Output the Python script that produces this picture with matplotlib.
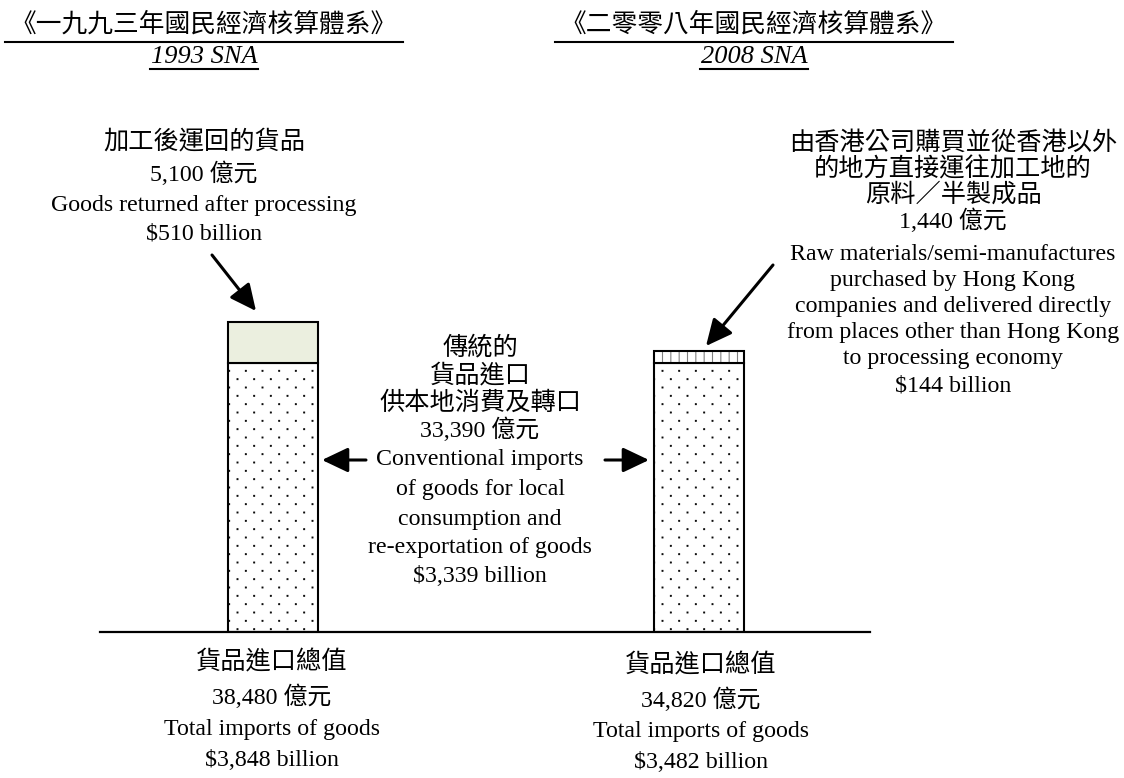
import numpy as np
import matplotlib
matplotlib.use("Agg")
import matplotlib.pyplot as plt
import matplotlib.hatch as mhatch
from matplotlib.path import Path
from matplotlib.lines import Line2D

W, H = 1124, 778

# ---- data (HK$ billion) ----
systems = ["1993 SNA", "2008 SNA"]
system_titles = ["《一九九三年國民經濟核算體系》", "《二零零八年國民經濟核算體系》"]
conventional = [3339, 3339]          # conventional imports, same in both systems
top_part = [510, 144]                # goods returned after processing / raw materials bought by HK firms
totals = [3848, 3482]
top_colors = ["#EBEFDF", "white"]
top_hatches = ["", "||"]

top_notes_zh = [["加工後運回的貨品"],
                ["由香港公司購買並從香港以外", "的地方直接運往加工地的", "原料／半製成品"]]
top_notes_en = [["Goods returned after processing"],
                ["Raw materials/semi-manufactures", "purchased by Hong Kong",
                 "companies and delivered directly", "from places other than Hong Kong",
                 "to processing economy"]]
conv_zh = ["傳統的", "貨品進口", "供本地消費及轉口"]
conv_en = ["Conventional imports", "of goods for local", "consumption and", "re-exportation of goods"]
total_zh = "貨品進口總值"
total_en = "Total imports of goods"

SERIF = ["Liberation Serif", "Noto Sans CJK TC"]
CJK = ["Noto Sans CJK TC", "Liberation Serif"]


# dotted fill as in the source: dots every 1/6 inch across, staggered rows every 1/12 inch
class StaggerDots(mhatch.HatchPatternBase):
    def __init__(self, hatch, density):
        self.ncols = hatch.count(".") * density
        self.nrows = self.ncols * 2
        self.num_vertices = self.ncols * self.nrows * 5

    def set_vertices_and_codes(self, vertices, codes):
        d = 0.004
        k = 0
        for r in range(self.nrows):
            shift = 0.5 if r % 2 else 0.0
            for c in range(self.ncols):
                x = (c + shift + 0.25) / self.ncols
                y = (r + 0.5) / self.nrows
                vertices[k:k + 5] = [[x - d, y - d], [x + d, y - d], [x + d, y + d],
                                     [x - d, y + d], [x - d, y - d]]
                codes[k:k + 5] = [Path.MOVETO, Path.LINETO, Path.LINETO, Path.LINETO, Path.CLOSEPOLY]
                k += 5


mhatch._hatch_types = [StaggerDots if t is mhatch.SmallFilledCircles else t
                       for t in mhatch._hatch_types]
plt.rcParams["hatch.linewidth"] = 0.8


def fx(x):
    return x / W


def fy(y):
    return 1 - y / H


fig = plt.figure(figsize=(W / 100, H / 100), dpi=100)


def line(x, y, s, size=17.2, family=SERIF, **kw):
    return fig.text(fx(x), fy(y), s, ha="center", va="center", fontsize=size,
                    family=family, **kw)


def zh(x, y, s, size=18.2):
    return line(x, y, s, size=size, family=CJK)


def arrow(x0, y0, x1, y1):
    fig.add_artist(matplotlib.patches.FancyArrowPatch(
        (fx(x0), fy(y0)), (fx(x1), fy(y1)), transform=fig.transFigure,
        arrowstyle="-|>,head_length=0.8,head_width=0.38", mutation_scale=20,
        lw=2.2, color="black", shrinkA=0, shrinkB=0))


# ---- bars ----
scale = 0.0806  # px per billion
ax = fig.add_axes([fx(100), fy(632), fx(770), 4000 * scale / H])
x = np.arange(len(systems))
width = 90 / 426
ax.bar(x, conventional, width, color="white", edgecolor="black", hatch=".", lw=1.5, zorder=2)
for i in range(len(systems)):
    if top_hatches[i]:
        ax.bar(x[i], top_part[i], width, bottom=conventional[i], color=top_colors[i],
               edgecolor="#808080", hatch=top_hatches[i], lw=0, zorder=2)
        ax.bar(x[i], top_part[i], width, bottom=conventional[i], fill=False,
               edgecolor="black", lw=1.5, zorder=3)
    else:
        ax.bar(x[i], top_part[i], width, bottom=conventional[i], color=top_colors[i],
               edgecolor="black", lw=1.5, zorder=2)
ax.set_xlim(-173 / 426, 1 + 171 / 426)
ax.set_ylim(0, 4000)
for s in ["top", "left", "right"]:
    ax.spines[s].set_visible(False)
ax.spines["bottom"].set_linewidth(1.6)
ax.set_xticks([])
ax.set_yticks([])
ax.patch.set_alpha(0)

# ---- headers ----
fig.canvas.draw()
r = fig.canvas.get_renderer()
for cx, title, sna in zip([204, 754], system_titles, systems):
    t1 = zh(cx, 25, title, size=18.5)
    t2 = line(cx, 57, sna, size=19, style="italic")
    for t, yy, pad in [(t1, 42, 6), (t2, 69, 1)]:
        bb = t.get_window_extent(r)
        fig.add_artist(Line2D([fx(bb.x0 - pad), fx(bb.x1 + pad)], [fy(yy), fy(yy)],
                              transform=fig.transFigure, color="black", lw=1.5))

# ---- note over 1993 bar ----
zh(204, 141, top_notes_zh[0][0])
line(204, 174, f"{top_part[0] * 10:,} 億元")
line(204, 205, top_notes_en[0][0])
line(204, 234, f"${top_part[0]:,} billion")
arrow(212, 255, 256, 311)

# ---- note over 2008 bar ----
for yy, s in zip([143, 169, 195], top_notes_zh[1]):
    zh(953, yy, s)
line(953, 221, f"{top_part[1] * 10:,} 億元")
for yy, s in zip([254, 281, 307, 333, 359], top_notes_en[1]):
    line(953, yy, s)
line(953, 386, f"${top_part[1]:,} billion")
arrow(773, 265, 706, 346)

# ---- conventional imports, between the bars ----
for yy, s in zip([347, 375, 403], conv_zh):
    zh(480, yy, s)
line(480, 430, f"{conventional[0] * 10:,} 億元")
for yy, s in zip([460, 490, 519, 548], conv_en):
    line(480, yy, s)
line(480, 577, f"${conventional[0]:,} billion")
arrow(366, 460, 322, 460)
arrow(605, 460, 649, 460)

# ---- totals under the baseline ----
for cx, dy, tot in zip([272, 701], [0, 3], totals):
    zh(cx, 662 + dy, total_zh)
    line(cx, 697 + dy, f"{tot * 10:,} 億元")
    line(cx, 729 + dy, total_en)
    line(cx, 760 + dy, f"${tot:,} billion")

fig.savefig("out.png", dpi=100)
